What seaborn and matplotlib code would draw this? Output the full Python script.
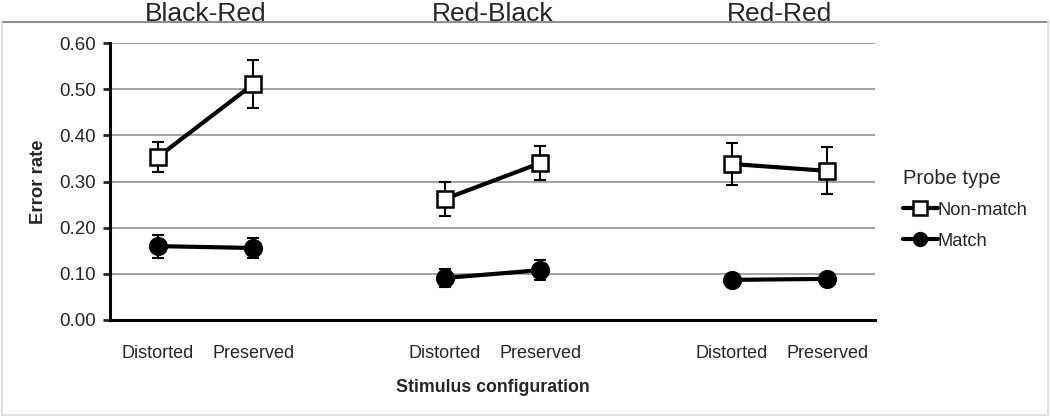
import matplotlib
matplotlib.use("Agg")
import matplotlib.pyplot as plt
import matplotlib.transforms as mtransforms
import pandas as pd
import seaborn as sns
from matplotlib.lines import Line2D

# data
groups = ["Black-Red", "Red-Black", "Red-Red"]
configs = ["Distorted", "Preserved"]
nonmatch = [0.353, 0.511, 0.262, 0.340, 0.338, 0.323]
nonmatch_err = [0.032, 0.052, 0.036, 0.037, 0.045, 0.051]
match = [0.160, 0.156, 0.091, 0.108, 0.087, 0.089]
match_err = [0.025, 0.021, 0.019, 0.022, 0.006, 0.006]
xpos = [0, 1, 3, 4, 6, 7]

rows = []
for i, x in enumerate(xpos):
    g = groups[i // 2]
    rows.append(dict(x=x, group=g, config=configs[i % 2], probe="Non-match",
                     rate=nonmatch[i], err=nonmatch_err[i]))
    rows.append(dict(x=x, group=g, config=configs[i % 2], probe="Match",
                     rate=match[i], err=match_err[i]))
df = pd.DataFrame(rows)

sns.set_style("white")
plt.rcParams["font.family"] = ["Liberation Sans", "DejaVu Sans"]

fig = plt.figure(figsize=(10.5, 4.17), dpi=100)
ax = fig.add_axes([110 / 1050, 1 - 320 / 417, (875 - 110) / 1050, 277 / 417])

styles = {"Non-match": dict(marker="s", mfc="white", ms=12),
          "Match": dict(marker="o", mfc="black", ms=12)}

for probe in ["Non-match", "Match"]:
    for g in groups:
        d = df[(df.probe == probe) & (df.group == g)]
        ax.errorbar(d.x, d.rate, yerr=d.err, fmt="none", ecolor="black",
                    elinewidth=1.5, capsize=4, capthick=1.5, zorder=3)
        sns.lineplot(data=d, x="x", y="rate", ax=ax, color="black", lw=3,
                     marker=styles[probe]["marker"], markersize=styles[probe]["ms"],
                     markerfacecolor=styles[probe]["mfc"], markeredgecolor="black",
                     markeredgewidth=1.8, zorder=4, legend=False)

ax.set_xlim(-0.5, 7.5)
ax.set_ylim(0, 0.6)
ax.set_yticks([0, 0.1, 0.2, 0.3, 0.4, 0.5, 0.6])
ax.set_yticklabels([f"{v:.2f}" for v in ax.get_yticks()], fontsize=13.5)
ax.set_xticks(xpos)
ax.set_xticklabels([configs[i % 2] for i in range(len(xpos))], fontsize=13)
ax.tick_params(axis="x", length=0, pad=18)
ax.tick_params(axis="y", length=5, width=2, direction="out", pad=5, left=True)
ax.yaxis.grid(True, color="#9a9a9a", lw=1.3)
ax.set_axisbelow(True)
for s in ["top", "right"]:
    ax.spines[s].set_visible(False)
for s in ["left", "bottom"]:
    ax.spines[s].set_linewidth(2.2)
    ax.spines[s].set_color("black")

ax.set_xlabel("Stimulus configuration", fontsize=12.8, fontweight="bold", labelpad=12)
ax.set_ylabel("Error rate", fontsize=13.3, fontweight="bold", labelpad=9)

# group titles above the frame
trans = mtransforms.blended_transform_factory(ax.transData, fig.transFigure)
for i, g in enumerate(groups):
    ax.text(3 * i + 0.5, 1 - 21 / 417, g, transform=trans,
            ha="center", va="baseline", fontsize=19)

handles = [Line2D([], [], color="black", lw=3, marker="s", mfc="white", mec="black",
                  mew=1.8, ms=10),
           Line2D([], [], color="black", lw=3, marker="o", mfc="black", ms=10)]
fig.legend(handles, ["Non-match", "Match"], title="Probe type", loc="upper left",
           bbox_to_anchor=(0.853, 0.612), frameon=False, fontsize=13.2,
           title_fontsize=14.5, handlelength=1.9, handletextpad=0.0,
           labelspacing=0.75, alignment="left", borderaxespad=0)

# outer frame
fig.add_artist(Line2D([2 / 1050, 1048 / 1050], [1 - 22 / 417, 1 - 22 / 417],
                      transform=fig.transFigure, color="#8f8f8f", lw=1.5))
for xs, ys in [([2 / 1050, 2 / 1050], [1 - 22 / 417, 2 / 417]),
               ([1048 / 1050, 1048 / 1050], [1 - 22 / 417, 2 / 417]),
               ([2 / 1050, 1048 / 1050], [2 / 417, 2 / 417])]:
    fig.add_artist(Line2D(xs, ys, transform=fig.transFigure, color="#dcdcdc", lw=1.2))

fig.savefig("out.png", dpi=100)
